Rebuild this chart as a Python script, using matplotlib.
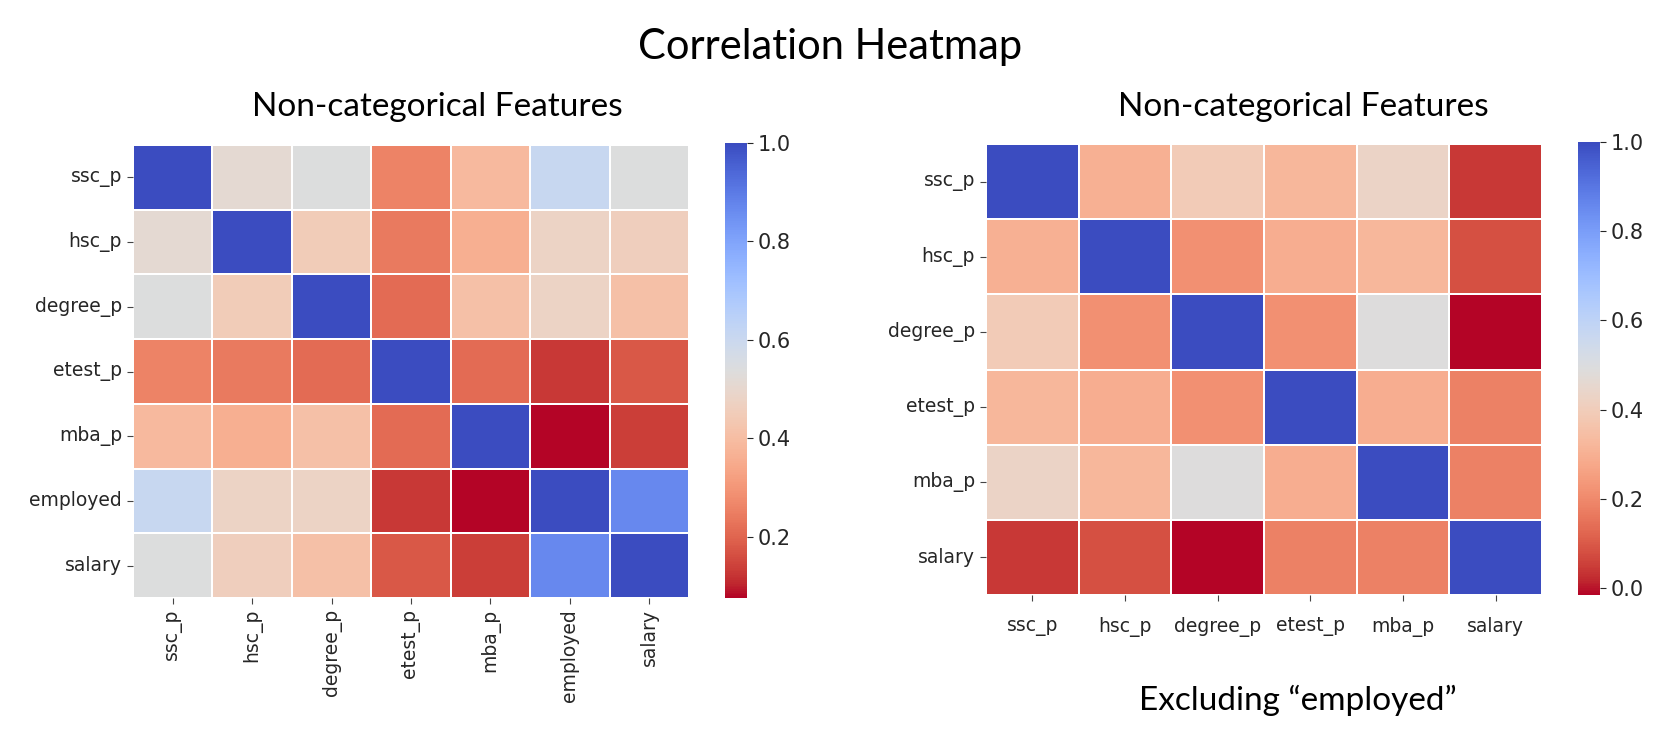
import matplotlib
matplotlib.use("Agg")
import matplotlib.pyplot as plt
import numpy as np
import pandas as pd
import seaborn as sns

# ---- data ----
labels_all = ["ssc_p", "hsc_p", "degree_p", "etest_p", "mba_p", "employed", "salary"]
corr_all_rows = [
    [1.00, 0.51, 0.54, 0.26, 0.39, 0.61, 0.54],
    [0.51, 1.00, 0.45, 0.24, 0.36, 0.48, 0.46],
    [0.54, 0.45, 1.00, 0.21, 0.41, 0.48, 0.41],
    [0.26, 0.24, 0.21, 1.00, 0.21, 0.13, 0.18],
    [0.39, 0.36, 0.41, 0.21, 1.00, 0.076, 0.136],
    [0.61, 0.48, 0.48, 0.13, 0.076, 1.00, 0.87],
    [0.54, 0.46, 0.41, 0.18, 0.136, 0.87, 1.00],
]

labels_excl = ["ssc_p", "hsc_p", "degree_p", "etest_p", "mba_p", "salary"]
corr_excl_rows = [
    [1.00, 0.30, 0.39, 0.32, 0.43, 0.04],
    [0.30, 1.00, 0.215, 0.29, 0.32, 0.08],
    [0.39, 0.215, 1.00, 0.215, 0.49, -0.016],
    [0.32, 0.29, 0.215, 1.00, 0.29, 0.18],
    [0.43, 0.32, 0.49, 0.29, 1.00, 0.18],
    [0.04, 0.08, -0.016, 0.18, 0.18, 1.00],
]

title_main = "Correlation Heatmap"
subtitle = "Non-categorical Features"
note_right = "Excluding \u201cemployed\u201d"

df_all = pd.DataFrame(corr_all_rows, index=labels_all, columns=labels_all)
df_excl = pd.DataFrame(corr_excl_rows, index=labels_excl, columns=labels_excl)

W, H = 1663, 730
fig = plt.figure(figsize=(W / 100, H / 100), dpi=100)
fig.patch.set_facecolor("white")

def box(x0, y0, x1, y1):
    return [x0 / W, (H - y1) / H, (x1 - x0) / W, (y1 - y0) / H]

ax1 = fig.add_axes(box(133, 145, 689, 598))
cax1 = fig.add_axes(box(725, 143, 747, 598))
ax2 = fig.add_axes(box(986, 144, 1542, 595))
cax2 = fig.add_axes(box(1578, 142, 1600, 595))

lab_font = dict(family=["DejaVu Sans"], size=13.5, color="#262626")

sns.heatmap(df_all, ax=ax1, cbar_ax=cax1, cmap="coolwarm_r",
            linewidths=1.2, linecolor="white", square=False)
sns.heatmap(df_excl, ax=ax2, cbar_ax=cax2, cmap="coolwarm_r",
            linewidths=1.2, linecolor="white", square=False)

for ax, rot in ((ax1, 90), (ax2, 0)):
    ax.set_xticklabels(ax.get_xticklabels(), rotation=rot, **lab_font)
    ax.set_yticklabels(ax.get_yticklabels(), rotation=0, **lab_font)
    ax.tick_params(axis="both", length=4, width=0.8, color="#444444", pad=4)
ax2.tick_params(axis="x", pad=12)

for cax in (cax1, cax2):
    cax.tick_params(labelsize=15, length=4, width=0.8, colors="#262626")

tfam = ["Lato", "DejaVu Sans"]
fig.text(830 / W, 1 - 47 / H, title_main, ha="center", va="center",
         fontsize=30, family=tfam, color="black")
fig.text(437 / W, 1 - 107 / H, subtitle, ha="center", va="center",
         fontsize=24, family=tfam, color="black")
fig.text(1303 / W, 1 - 107 / H, subtitle, ha="center", va="center",
         fontsize=24, family=tfam, color="black")
fig.text(1298 / W, 1 - 700 / H, note_right, ha="center", va="center",
         fontsize=24, family=tfam, color="black")

fig.savefig("out.png", dpi=100, facecolor="white")
